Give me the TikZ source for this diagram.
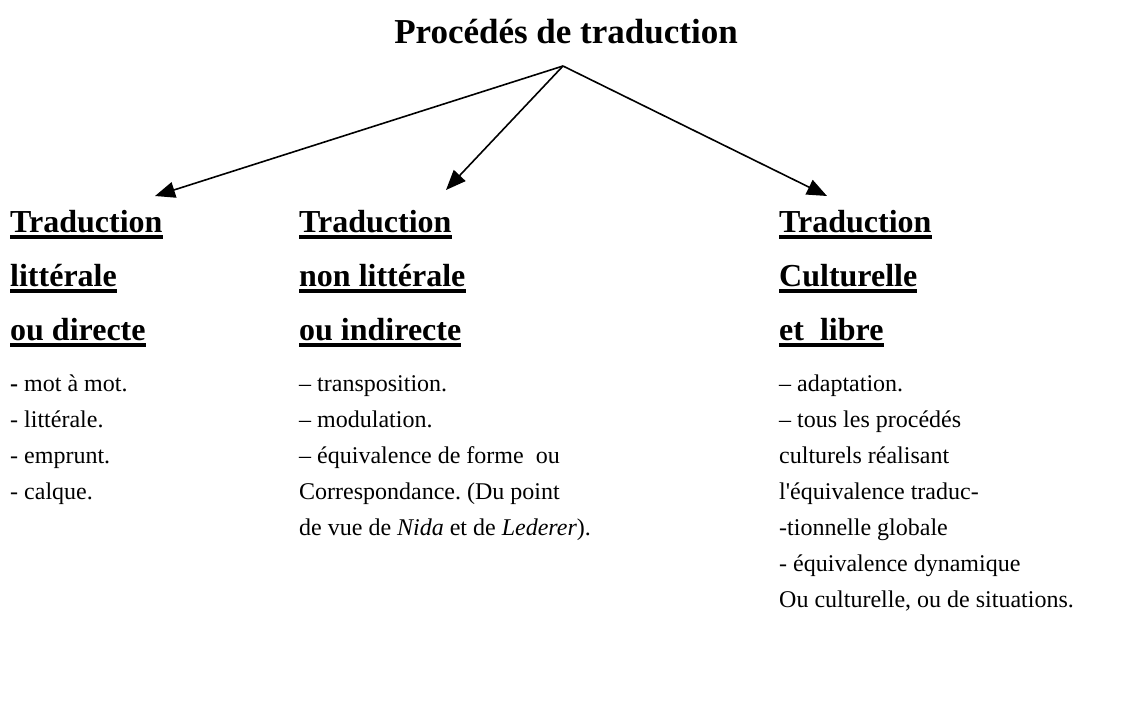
\documentclass[tikz,border=0pt]{standalone}
\usepackage{fontspec}
\setmainfont{Liberation Serif}
\usetikzlibrary{arrows.meta}
\frenchspacing
\begin{document}
\begin{tikzpicture}[x=1pt,y=1pt,
  txt/.style={anchor=base west,inner sep=0pt,font=\fontsize{24}{36}\selectfont},
  head/.style={anchor=base west,inner sep=0pt,font=\fontsize{32}{40}\selectfont\bfseries},
  ttl/.style={anchor=base,inner sep=0pt,font=\fontsize{35}{44}\selectfont\bfseries},
  ul/.style={line width=3.2pt},
  arr/.style={line width=1.6pt,-{Triangle[length=20pt,width=16pt]}}]
\useasboundingbox (0,0) rectangle (1141,-702);
\node[ttl] (title) at (566,-43) {Procédés de traduction};
\coordinate (apex) at (563,-66);
% left column
\node[head] (l1) at (10,-232) {Traduction};
\node[head] (l2) at (10,-286) {littérale};
\node[head] (l3) at (10,-340) {ou directe};
\node[txt] (l4) at (10,-391) {\textbf{-} mot à mot.};
\node[txt] (l5) at (10,-427) {- littérale.};
\node[txt] (l6) at (10,-463) {- emprunt.};
\node[txt] (l7) at (10,-499) {- calque.};
% middle column
\node[head] (m1) at (299,-232) {Traduction};
\node[head] (m2) at (299,-286) {non littérale};
\node[head] (m3) at (299,-340) {ou indirecte};
\node[txt] (m4) at (299,-391) {– transposition.};
\node[txt] (m5) at (299,-427) {– modulation.};
\node[txt] (m6) at (299,-463) {– équivalence de forme\ \ ou};
\node[txt] (m7) at (299,-499) {Correspondance. (Du point};
\node[txt] (m8) at (299,-535) {de vue de \textit{Nida} et de \textit{Lederer}).};
% right column
\node[head] (r1) at (779,-232) {Traduction};
\node[head] (r2) at (779,-286) {Culturelle};
\node[head] (r3) at (779,-340) {et\ \ libre};
\node[txt] (r4) at (779,-391) {– adaptation.};
\node[txt] (r5) at (779,-427) {– tous les procédés};
\node[txt] (r6) at (779,-463) {culturels réalisant};
\node[txt] (r7) at (779,-499) {l\textquotesingle équivalence traduc-};
\node[txt] (r8) at (779,-535) {-tionnelle globale};
\node[txt] (r9) at (779,-571) {- équivalence dynamique};
\node[txt] (r10) at (779,-607) {Ou culturelle, ou de situations.};
% underlines
\foreach \n in {l1,l2,l3,m1,m2,m3,r1,r2,r3}
  \draw[ul] ([yshift=-5pt]\n.base west) -- ([yshift=-5pt]\n.base east);
% arrows
\coordinate (tl) at (155,-196);
\coordinate (tm) at (446,-190);
\coordinate (tr) at (827,-196);
\draw[arr] (apex) -- (tl);
\draw[arr] (apex) -- (tm);
\draw[arr] (apex) -- (tr);
\end{tikzpicture}
\end{document}
